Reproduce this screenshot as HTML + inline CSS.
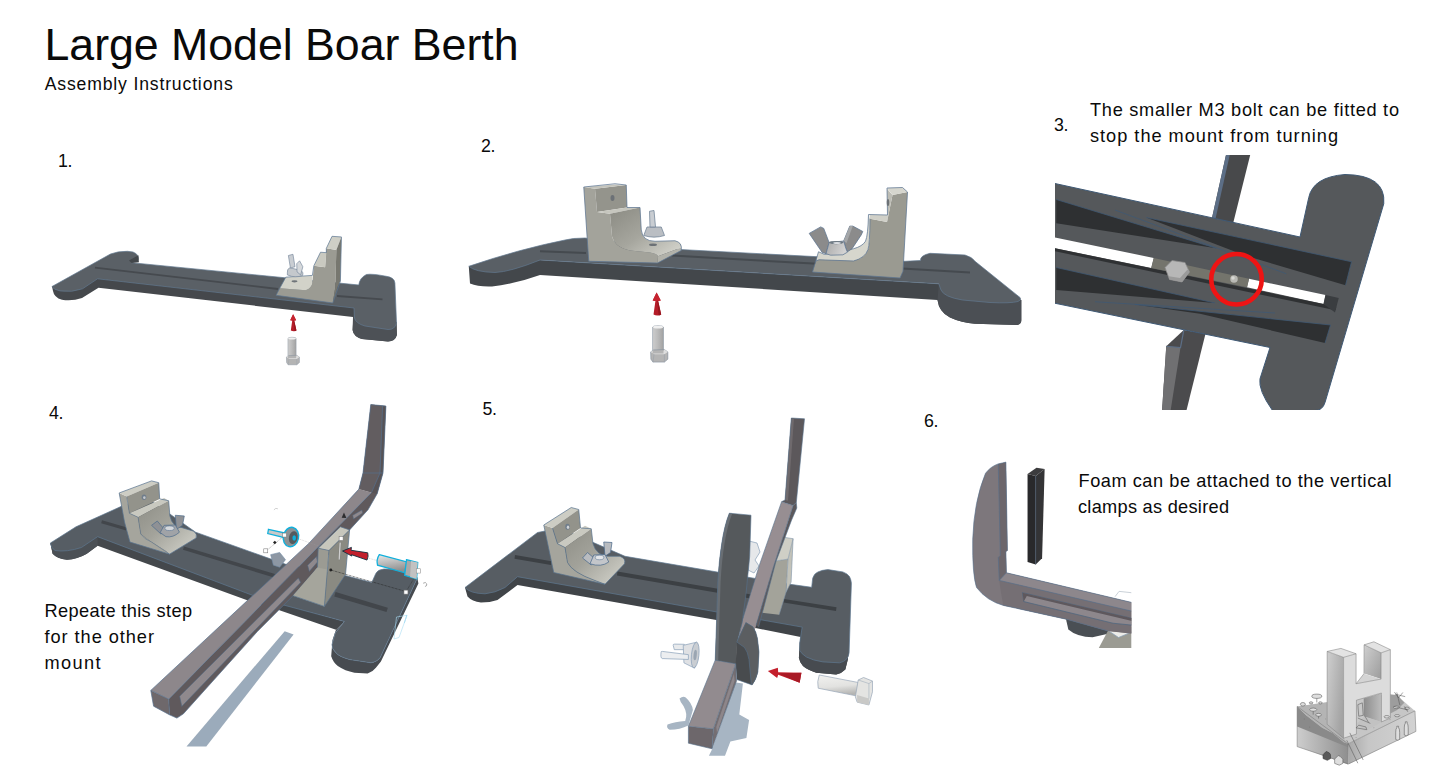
<!DOCTYPE html>
<html><head><meta charset="utf-8"><title>Large Model Boar Berth</title>
<style>
html,body{margin:0;padding:0;background:#fff;}
body{width:1445px;height:784px;overflow:hidden;font-family:"Liberation Sans",sans-serif;}
svg{display:block;position:absolute;left:0;top:0;}
text{font-family:"Liberation Sans",sans-serif;fill:#0a0a0a;}
</style></head><body>
<svg width="1445" height="784" viewBox="0 0 1445 784">
<defs>
<filter id="soft" x="-5%" y="-5%" width="110%" height="110%"><feGaussianBlur stdDeviation="0.45"/></filter>
<linearGradient id="gm1" x1="0" y1="0" x2="1" y2="1"><stop offset="0" stop-color="#8a8a82"/><stop offset="0.5" stop-color="#a6a69e"/><stop offset="1" stop-color="#dadad2"/></linearGradient>
<clipPath id="clip3"><rect x="1055" y="155" width="390" height="255"/></clipPath>
<linearGradient id="gm4" x1="0" y1="0" x2="1" y2="1"><stop offset="0" stop-color="#8d8d85"/><stop offset="0.45" stop-color="#a3a39b"/><stop offset="1" stop-color="#d6d6ce"/></linearGradient>
<linearGradient id="gb4" x1="0" y1="0" x2="0.25" y2="1"><stop offset="0" stop-color="#e8e8e8"/><stop offset="1" stop-color="#8f8f8f"/></linearGradient>
<linearGradient id="gb5" x1="0" y1="0" x2="0.18" y2="1"><stop offset="0" stop-color="#f2f2f0"/><stop offset="0.6" stop-color="#e2e2e0"/><stop offset="1" stop-color="#b5b5b3"/></linearGradient>
<clipPath id="clip6"><rect x="960" y="455" width="171.3" height="193"/></clipPath>
<linearGradient id="gl1" x1="0" y1="0" x2="1" y2="0.6"><stop offset="0" stop-color="#cfcfcf"/><stop offset="1" stop-color="#a3a3a3"/></linearGradient>
<linearGradient id="gl2" x1="0" y1="0" x2="1" y2="1"><stop offset="0" stop-color="#cfcfcf"/><stop offset="1" stop-color="#9c9c9c"/></linearGradient>
<linearGradient id="gl3" x1="0" y1="0" x2="1" y2="0"><stop offset="0" stop-color="#8e8e8e"/><stop offset="1" stop-color="#bdbdbd"/></linearGradient>
<linearGradient id="glb" x1="0" y1="0" x2="1" y2="0"><stop offset="0" stop-color="#cdcdcd"/><stop offset="1" stop-color="#8f8f8f"/></linearGradient>
<linearGradient id="glr" x1="0" y1="0" x2="1" y2="0"><stop offset="0" stop-color="#a8a8a8"/><stop offset="0.3" stop-color="#c6c6c6"/><stop offset="1" stop-color="#d2d2d2"/></linearGradient>
<linearGradient id="gsh" x1="0" y1="0" x2="1" y2="0"><stop offset="0" stop-color="#cdcdcd"/><stop offset="0.45" stop-color="#bcbcbc"/><stop offset="1" stop-color="#a2a2a2"/></linearGradient>
<g id="uparrow"><path d="M232,108 L198,178 L222,181 L205,300 Q238,318 272,300 L245,181 L268,178 Z" fill="#b51d29"/><path d="M232,108 L198,178 Q232,188 268,178 Z" fill="#c6232f"/><path d="M238,181 L245,181 L272,300 Q262,308 250,310 Z" fill="#98161f"/></g>
<g id="vbolt"><path d="M197,412 Q197,398 245,398 Q292,398 292,412 L292,640 L197,640 Z" fill="url(#gsh)" stroke="#8a95a3" stroke-width="5"/><ellipse cx="245" cy="412" rx="44" ry="12" fill="#f0f0f0"/><path d="M180,627 L205,610 L300,607 L330,627 L330,690 L300,716 L200,716 L182,690 Z" fill="#b4b4b4" stroke="#7f8b99" stroke-width="5"/><path d="M180,627 L205,610 L197,622 L197,640 L292,640 L292,620 L300,607 L330,627 L300,648 L210,648 Z" fill="#dedede"/><path d="M210,648 L200,716 M300,648 L300,716" stroke="#8f9aa8" stroke-width="4" fill="none"/></g>
<linearGradient id="gwn" x1="0" y1="0" x2="1" y2="0.3"><stop offset="0" stop-color="#a9a9a9"/><stop offset="1" stop-color="#d3d3d3"/></linearGradient>

</defs>
<rect width="1445" height="784" fill="#fff"/>
<!--TEXT-->
<g id="txt">
<text x="44.5" y="59.5" font-size="44.7" textLength="474" lengthAdjust="spacing">Large Model Boar Berth</text>
<text x="44.7" y="90" font-size="17.6" textLength="188" lengthAdjust="spacing">Assembly Instructions</text>
<text x="58" y="166.5" font-size="17.8" textLength="14.5" lengthAdjust="spacing">1.</text>
<text x="481" y="151.9" font-size="17.8" textLength="14.5" lengthAdjust="spacing">2.</text>
<text x="1054" y="130.8" font-size="17.8" textLength="14.5" lengthAdjust="spacing">3.</text>
<text x="49" y="419.3" font-size="17.8" textLength="14.5" lengthAdjust="spacing">4.</text>
<text x="482.5" y="414.5" font-size="17.8" textLength="14.5" lengthAdjust="spacing">5.</text>
<text x="924" y="426.9" font-size="17.8" textLength="14.5" lengthAdjust="spacing">6.</text>
<text x="1090" y="116.3" font-size="18.2" textLength="309" lengthAdjust="spacing">The smaller M3 bolt can be fitted to</text>
<text x="1090" y="141.8" font-size="18.2" textLength="248" lengthAdjust="spacing">stop the mount from turning</text>
<text x="1078.5" y="487" font-size="18.2" textLength="313" lengthAdjust="spacing">Foam can be attached to the vertical</text>
<text x="1078" y="513.1" font-size="18.2" textLength="151" lengthAdjust="spacing">clamps as desired</text>
<text x="44.5" y="616.6" font-size="18.2" textLength="147.5" lengthAdjust="spacing">Repeate this step</text>
<text x="44.5" y="643" font-size="18.2" textLength="109.5" lengthAdjust="spacing">for the other</text>
<text x="44.5" y="669.2" font-size="18.2" textLength="56" lengthAdjust="spacing">mount</text>
</g>
<g id="fig1">
<!-- base sides -->
<path d="M52,286.5 L53,291 Q54,297.5 62,299.8 Q72,301.5 82,298 L98.5,287.8 L353,317 L352.6,330 Q353.5,336.5 362,339 L388,341.5 Q395,341.5 396.9,335 L396.5,322 L354,307 L97,278 Z" fill="#45484c"/>
<path d="M354,308 L352.6,330 Q353.5,336.5 362,339 L388,341.5 Q395,341.5 396.9,335 L396.5,322 Z" fill="#4d5156"/>
<!-- base top -->
<path d="M52,286.5 L110.5,254 Q118,251 127.5,251.3 L133,252 Q139.5,254.5 138,260 L131.5,262.7 L358.8,285 Q359.5,278 366.4,274.5 Q372,273.5 386.3,276.3 Q394.5,277.5 394.9,283 L396.5,323 Q395,329.8 388,329.5 L365,326 Q356,323.5 354.5,318 L354,308 L97.5,278.8 L82.5,288.8 Q72,292.7 60,290.9 Q53,289.5 52,286.5 Z" fill="#5a6066" stroke="#62788f" stroke-width="0.7"/>
<path d="M129,260.6 L138.4,255.2 L138.9,262.3 L131.5,262.9 Z" fill="#43474b"/>
<!-- grooves -->
<path d="M95,267.7 L278,289" stroke="#464a4f" stroke-width="1.8" fill="none"/>
<path d="M337,296 L382.5,299.4" stroke="#464a4f" stroke-width="1.8" fill="none"/>
<!-- mount -->
<g transform="translate(270,230) scale(0.10204)">
<path d="M60,640 L95,572 L350,590 Q410,570 415,520 L430,350 L540,365 L552,180 L650,195 L640,560 L615,715 Z" fill="#9b9b93"/>
<path d="M95,572 L155,462 L415,445 L415,520 Q410,570 350,590 Z" fill="#d2d2c9"/>
<path d="M430,350 L495,218 L552,222 L540,365 Z" fill="#c9c9c0"/>
<path d="M552,180 L608,62 L700,68 L650,195 Z" fill="#cfcfc6"/>
<path d="M650,195 L700,68 L690,500 L660,560 L615,715 L640,560 Z" fill="#77776f"/>
<path d="M60,640 L95,572 L155,462 L415,445 L430,350 L495,218 L552,222 L552,180 L608,62 L700,68 L690,500 L615,715 Z" fill="none" stroke="#5d7691" stroke-width="7"/>
<ellipse cx="240" cy="503" rx="30" ry="11" fill="#70757a"/>
<!-- wingnut -->
<path d="M170,420 Q165,380 195,370 L300,395 Q330,410 320,445 Q250,475 170,440 Z" fill="#c4c8cc" stroke="#6f8196" stroke-width="6"/>
<path d="M180,250 L225,238 L245,360 L200,372 Z" fill="#c9cdd2" stroke="#6f8196" stroke-width="6"/>
<path d="M262,330 L290,302 L322,360 L300,440 L265,410 Z" fill="#d5d8db" stroke="#6f8196" stroke-width="6"/>
</g>
<use href="#uparrow" transform="translate(273.54,305.2) scale(0.08429)"/>
<use href="#vbolt" transform="translate(270.85,302.81) scale(0.08658)"/>
</g>

<g id="fig2">
<!-- view A: offset (460,170) scale .25 ; view B: offset(700,170) -->
<!-- side faces -->
<path d="M468.8,266.5 L470,283.5 Q478,287 492,286.5 Q515,284 540,275 L937.5,300 Q939,312 950,317.5 Q962,323 975,323.8 L1017.5,325 Q1021.5,324 1021.3,320 L1021.3,300 L938.8,283.8 L540,260 Z" fill="#43474b"/>
<path d="M938.8,283.8 L937.5,300 Q939,312 950,317.5 Q962,323 975,323.8 L1017.5,325 Q1021.5,324 1021.3,320 L1021.3,300 Z" fill="#4b4f54"/>
<!-- top face -->
<path d="M468.8,266.3 Q520,249 565,240 Q572,238 585,238 L680,249.5 L905,261.3 L920.5,260.5 Q920,255.5 930,253.3 L965,255 Q972,257 975,261.3 L1020,297.5 Q1022,300 1018,301.5 Q1010,303.5 990,302.5 L962.5,300 Q944,297 941,290 L938.8,283.8 L540,260 Q510,272 495,272.5 Q475,272 468.8,266.3 Z" fill="#595f65" stroke="#62788f" stroke-width="0.7"/>
<path d="M540,251.3 L586,253 M672,255.5 L817.5,263.8 M902,268.5 L970,272.5" stroke="#454a4f" stroke-width="2" fill="none"/>
<!-- mount 1 -->
<g transform="translate(460,170) scale(0.25)">
<path d="M495,68 L540,75 L548,168 L600,175 L608,265 Q620,310 680,322 L760,330 Q790,335 792,345 L790,372 L515,365 Z" fill="#a3a39b"/>
<path d="M540,75 L665,60 L668,150 L548,168 Z" fill="#94948c"/>
<path d="M495,68 L620,58 L665,60 L540,75 Z" fill="#c4c4bc"/>
<path d="M548,168 L668,150 L720,150 L600,175 Z" fill="#c6c6be"/>
<path d="M600,175 L720,150 L725,240 Q730,285 780,285 L860,283 Q890,290 885,310 L792,345 Q790,335 760,330 L680,322 Q620,310 608,265 Z" fill="url(#gm1)"/>
<path d="M792,345 L885,310 L885,322 L790,372 Z" fill="#b2b2aa"/>
<path d="M495,68 L620,55 L665,60 L668,150 L720,150 L725,240 Q730,285 780,285 L860,283 Q890,290 885,322 L790,372 L515,365 Z" fill="none" stroke="#5d7691" stroke-width="3"/>
<ellipse cx="610" cy="112" rx="8" ry="12" fill="#6c7176"/>
<ellipse cx="772" cy="299" rx="16" ry="5" fill="#6c7176"/>
<!-- wingnut small -->
<path d="M735,262 L748,228 L805,228 L818,262 Q776,275 735,262 Z" fill="#babec3" stroke="#6f8196" stroke-width="3"/>
<path d="M758,165 L776,162 L782,228 L760,228 Z" fill="#c9cdd2" stroke="#6f8196" stroke-width="3"/>
</g>
<!-- mount 2 -->
<g transform="translate(700,170) scale(0.25)">
<path d="M450,408 L464,364 L476,359 L614,364 Q660,352 672,318 Q679,298 680,195 L748,208 L770,100 L830,88 L812,405 L800,432 Z" fill="#9a9a91"/>
<path d="M464,364 L474,327 L498,338 L614,315 Q650,305 662,285 Q672,262 674,178 L680,195 Q679,298 672,318 Q660,352 614,364 L476,359 Z" fill="#d6d6cd"/>
<path d="M678,178 L750,180 L748,208 L680,195 Z" fill="#d0d0c8"/>
<path d="M748,75 L770,100 L748,208 L750,180 Z" fill="#bdbdb5"/>
<path d="M748,72 L810,70 L830,88 L770,100 Z" fill="#d6d6ce"/>
<path d="M450,408 L474,327 L498,338 L614,315 Q650,305 662,285 Q672,262 674,178 L750,180 L748,72 L810,70 L830,88 L812,405 L800,432 Z M464,364 L476,359 L614,364 Q660,352 672,318 Q679,298 680,195" fill="none" stroke="#5d7691" stroke-width="3"/>
<ellipse cx="752" cy="130" rx="5" ry="14" fill="#6c7176"/>
<!-- wingnut big -->
<path d="M436.8,253.5 L482.7,227.5 L495,233.6 L516.4,290.3 L504.1,334.7 L488.8,330.1 Z" fill="#8b8b8b" stroke="#5d7691" stroke-width="3" stroke-linejoin="round"/>
<path d="M574.6,284.1 L599.1,224.4 L611.3,224.4 L651.2,245.9 L645,259.6 L608.3,314.8 L589.9,327 L583.8,314.8 Z" fill="#8b8b8b" stroke="#5d7691" stroke-width="3" stroke-linejoin="round"/>
<path d="M574.6,284.1 L599.1,224.4 L611.3,224.4 L586,292 Z" fill="#a4a6a8"/>
<path d="M504.1,334.7 L516.4,290.3 L574.6,284.1 L583.8,314.8 L589.9,328.6 L571.5,339.3 L522.5,340.8 Z" fill="url(#gwn)" stroke="#5d7691" stroke-width="3" stroke-linejoin="round"/>
<ellipse cx="545" cy="290" rx="29" ry="6.5" fill="#6f7a84"/>
<ellipse cx="548" cy="292" rx="15" ry="4" fill="#d9dce0"/>
</g>
<use href="#uparrow" transform="translate(630,280) scale(0.11468)"/>
<use href="#vbolt" transform="translate(630,280) scale(0.11468)"/>
</g>

<g id="fig3" clip-path="url(#clip3)">
<g transform="translate(1040,150) scale(0.25)">
<!-- vertical bar behind -->
<path d="M745,15 L842,15 L772,295 L688,272 Z" fill="#48494b"/>
<path d="M745,15 L760,15 L702,275 L688,272 Z" fill="#5c6e86"/>
<path d="M575,720 L662,735 L585,1045 L488,1045 L505,785 Z" fill="#4b4b4d"/>
<path d="M505,785 L562,790 L522,1045 L488,1045 Z" fill="#707072"/>
<path d="M505,785 L562,790 L575,722" fill="none" stroke="#5c6e86" stroke-width="5"/>
<!-- base body -->
<path d="M55,133 L1040,348 L1075,190 Q1092,108 1220,98 Q1385,100 1375,215 L1140,1010 Q1130,1042 1100,1042 L930,1042 Q872,960 880,915 L920,790 L55,612 Z" fill="#55585b" stroke="#3f5975" stroke-width="4"/>
<!-- slot white -->
<path d="M55,349 L455,432 L445,472 L55,392 Z" fill="#fff"/>
<path d="M836,515 L1142,580 L1134,616 L828,549 Z" fill="#fff"/>
<!-- slot wall shadow -->
<path d="M55,392 L1134,616 L1185,628 L1182,641 L55,404 Z" fill="#2f3133"/>
<path d="M1142,580 L1195,592 L1180,650 L1134,616 Z" fill="#3a3d40"/>
<!-- pockets -->
<path d="M65,198 L705,393 L65,293 Z" fill="#2e3032"/>
<path d="M425,270 L1246,447 L1222,541 L820,422 Z" fill="#2e3032"/>
<path d="M65,470 L700,612 L65,560 Z" fill="#2e3032"/>
<path d="M380,618 L1162,700 L1140,772 L640,655 Z" fill="#2e3032"/>
<!-- rib edge lines -->
<path d="M300,240 L985,495 M220,607 L940,652 M65,198 L705,393 M425,270 L1246,447 L1222,541 M65,470 L700,612 M380,618 L1162,700 L1140,772" fill="none" stroke="#3f5975" stroke-width="3"/>
<!-- nut plate -->
<path d="M455,432 L836,515 L828,549 L445,472 Z" fill="#74746c"/>
<!-- hex -->
<path d="M500,470 L528,442 L580,450 L598,488 L568,528 L518,518 Z" fill="#b7b7b7" stroke="#8a8a8a" stroke-width="3"/>
<path d="M518,518 L568,528 L598,488 L590,478 L560,512 L515,505 Z" fill="#9a9a9a"/>
<circle cx="776" cy="516" r="15" fill="#b9b9b4"/>
<circle cx="772" cy="512" r="7" fill="#d8d8d4"/>
<!-- red circle -->
<circle cx="786" cy="517" r="101" fill="none" stroke="#ee1414" stroke-width="18.5"/>
</g>
</g>

<g id="fig4">
<!-- shadow strip -->
<path d="M284.7,631.2 L293.6,634.6 L206.3,746.4 L186.5,746.4 Z" fill="#9babbb"/>
<!-- base sides -->
<path d="M50.4,543 L52.6,553.8 Q57,558.7 67,559.8 Q77,559.5 86.8,553.8 L97.6,545.7 L250,601.3 L278,609.8 L336,629.7 L344.4,621.4 L279.8,603 L245.1,591 L97.6,535 Z" fill="#44484c"/>
<path d="M50.4,543 L52.6,553.8 Q57,558.7 67,559.8 Q77,559.5 86.8,553.8 L97.6,545.7 L97.6,536.7 L81.4,547.5 Q67,552.3 55,550.5 Z" fill="#4b5055"/>
<path d="M344.4,621.4 L335.3,633 L332,644.6 Q331.5,648.5 336.1,652.9 Q339,656.5 349.4,659.5 L371,662.8 Q377,662 380.1,657.8 L417.4,578 L418.4,583.5 L380.9,661.4 L375.9,667.8 Q373,671.7 367.6,673.6 L354.4,672.8 Q345,671 337.8,666.1 Q333,662 331.2,656.2 L332.5,640 L336,629.7 Z" fill="#474b50"/>
<!-- base top -->
<path d="M50.4,543 L76,526.8 L121.9,506.1 L150,500 L195.6,532.2 L286.5,564.6 L346.1,575.8 L371.8,582.4 L375.9,573.3 Q378,569.5 384,569 L405,569.5 Q414,571.5 417.4,578 L380.1,657.8 Q377,662 371,662.8 L349.4,659.5 Q339,656.5 336.1,652.9 Q331.5,648.5 332,644.6 L335.3,633 L344.4,621.4 L279.8,604 L262,599 L245.1,592.5 L97.6,536.7 L81.4,547.5 Q67,552.3 55,550.5 Q50.8,548 50.4,543 Z" fill="#565d64" stroke="#5f7891" stroke-width="0.7"/>
<path d="M102,520.3 L127,527.6 L126.2,530.6 L101.2,523.2 Z M184,546.4 L275,574 L274,577.5 L183,549.7 Z" fill="#42464b"/>
<path d="M335.6,592 L387.8,607.8 L386.5,612 L334.3,596.4 Z" fill="#42464b"/>
<!-- mount 1 -->
<g transform="translate(40,480) scale(0.17992)">
<path d="M440,72 L482,92 L497,185 L545,207 L560,300 L620,345 L700,395 L720,412 L500,345 L470,235 Z" fill="#a5a59d"/>
<path d="M440,72 L620,5 L660,15 L482,92 Z" fill="#cdcdc4"/>
<path d="M482,92 L660,15 L665,105 L497,185 Z" fill="#93938b"/>
<path d="M497,185 L690,100 L715,115 L545,207 Z" fill="#c9c9c0"/>
<path d="M545,207 L715,115 L722,200 Q735,262 790,265 L855,285 Q876,300 868,322 L720,412 L700,395 L620,345 L560,300 Z" fill="url(#gm4)"/>
<path d="M440,72 L620,5 L660,15 L665,105 L715,115 L722,200 Q735,262 790,265 L855,285 Q876,300 868,322 L720,412 L500,345 L470,235 Z" fill="none" stroke="#58728e" stroke-width="4"/>
<path d="M482,92 L497,185 L545,207 L560,300 Q580,330 620,345 L720,412" fill="none" stroke="#58728e" stroke-width="3"/>
<ellipse cx="578" cy="96" rx="13" ry="15" fill="#6f7d8c"/><ellipse cx="580" cy="98" rx="7" ry="8" fill="#c5c8cc"/>
<!-- wingnut -->
<path d="M620,252 L652,228 L700,285 L672,300 Z" fill="#8f9195" stroke="#4f6c8c" stroke-width="4"/>
<path d="M752,196 L802,200 L792,252 L758,275 Z" fill="#8f9195" stroke="#4f6c8c" stroke-width="4"/>
<path d="M668,292 L690,252 L752,250 L775,290 Q740,322 700,315 Z" fill="#a0a3a7" stroke="#4f6c8c" stroke-width="4"/>
<ellipse cx="720" cy="268" rx="26" ry="13" fill="#d5d8dc" stroke="#4f6c8c" stroke-width="3"/>
</g>
<!-- bar -->
<path d="M370.8,404.6 L385.9,406 L383,473 L377.2,493.7 L368,509.8 L349.6,529.9 L318,567 L293,595.7 L257.1,631.8 L183.4,713.8 L176.9,718.1 L169.5,714.8 L168.7,699.1 L371.5,492.5 L358.9,489.1 L363,473 Z" fill="#5f595c"/>
<path d="M370.8,404.6 L382.6,405.8 L380,473 L371.5,492.5 L358.9,489.1 L363,473 Z" fill="#625d60"/>
<path d="M382.6,405.8 L385.9,406 L383,473 L377.2,493.7 L371.5,492.5 L380,473 Z" fill="#575356"/>
<path d="M358.9,489.1 L371.5,492.5 L344.5,520 L168.7,699.1 L150.8,690.4 L308.8,543.4 Z" fill="#8d878b"/>
<path d="M150.8,690.4 L168.7,699.1 L169.5,714.8 L153.6,706.2 Z" fill="#6e686b"/>
<path d="M179.6,696.2 L298.4,577.9 L300.7,582.5 L181.8,706.4 Z" fill="#8f898d" stroke="#4f6680" stroke-width="0.6"/>
<path d="M307.6,565.3 L316.5,556.5 L317.5,562 L309.3,571.5 Z" fill="#8f898d" stroke="#4f6680" stroke-width="0.6"/>
<path d="M352.7,515.3 L361.9,510 L362.7,513 L353.5,519.1 Z" fill="#8f898d" stroke="#4f6680" stroke-width="0.5"/>
<path d="M370.8,404.6 L385.9,406 L383,473 L377.2,493.7 L368,509.8 L349.6,529.9 L318,567 L293,595.7 L257.1,631.8 L183.4,713.8 L176.9,718.1 L169.5,714.8 L153.6,706.2 L150.8,690.4 L308.8,543.4 L358.9,489.1 L363,473 Z M371.5,492.5 L168.7,699.1 L150.8,690.4 M168.7,699.1 L169.5,714.8 M382.6,405.8 L380,473 L371.5,492.5 M363,473 L383,473" fill="none" stroke="#56708c" stroke-width="0.7"/>
<!-- mount 2 -->
<path d="M318.2,548.2 L329,550.5 L324.4,606.4 L293,595.7 L317.5,567.4 Z" fill="#9b9b93"/>
<path d="M317.5,567.4 L327.5,569.5 L324.4,606.4 L293,595.7 Z" fill="#a5a59c"/>
<path d="M318.2,548.2 L340.4,526.8 L349.6,529.9 L329,550.5 Z" fill="#c7c7bd"/>
<path d="M329,550.5 L349.6,529.9 L345.5,574.5 L324.4,606.4 Z" fill="#8a8a82"/>
<path d="M318.2,548.2 L340.4,526.8 L349.6,529.9 L345.5,574.5 L324.4,606.4 L293,595.7 M329,550.5 L324.4,606.4 M329,550.5 L349.6,529.9 M318.2,548.2 L329,550.5 M318.2,548.2 L317.5,567.4" fill="none" stroke="#58728e" stroke-width="0.7"/>
<!-- small items (view G coords) -->
<g transform="translate(200,480) scale(0.18113)">
<path d="M390,412 L440,400 L472,440 L440,482 L405,470 Z" fill="#8d97a3" stroke="#6c86a3" stroke-width="3"/>
<path d="M545,325 L660,366" stroke="#999" stroke-width="2" stroke-dasharray="5 4"/>
<path d="M365,392 L468,305" stroke="#444" stroke-width="2" stroke-dasharray="6 4"/>
<!-- knob -->
<path d="M378,272 L470,293 L466,318 L374,296 Z" fill="#c9c9c9" stroke="#10b0dc" stroke-width="7"/>
<ellipse cx="502" cy="315" rx="42" ry="54" fill="#8d9194" stroke="#10b0dc" stroke-width="8" transform="rotate(12 502 315)"/>
<ellipse cx="515" cy="318" rx="24" ry="36" fill="#555a5e" transform="rotate(12 515 318)"/>
<ellipse cx="520" cy="320" rx="10" ry="15" fill="#10b0dc"/>
<rect x="455" y="293" width="22" height="22" fill="#fff" stroke="#777" stroke-width="3"/>
<rect x="352" y="380" width="22" height="22" fill="#fff" stroke="#777" stroke-width="3"/>
<rect x="406" y="338" width="14" height="14" fill="#222" transform="rotate(45 413 345)"/>
<!-- marker cone -->
<path d="M795,180 L782,208 L808,210 Z" fill="#2c2c2e"/>
<!-- square on mount & pin -->
<rect x="768" y="312" width="22" height="22" fill="#fff" stroke="#777" stroke-width="3"/>
<path d="M770,345 L778,345 L772,440 L765,440 Z" fill="#e8e8e8" stroke="#777" stroke-width="2"/>
<circle cx="722" cy="497" r="8" fill="#222"/>
<path d="M722,497 L1138,616" stroke="#222" stroke-width="4" stroke-dasharray="4 4"/>
<path d="M1138,616 L1180,545" stroke="#222" stroke-width="3" stroke-dasharray="4 4"/>
<!-- arrow -->
<path d="M787,392 L836,372 L834,388 L926,402 Q932,420 922,442 L836,412 L838,420 Z" fill="#c21f2c" stroke="#12303f" stroke-width="5" stroke-linejoin="round"/>
<path d="M925,430 L985,447" stroke="#999" stroke-width="2" stroke-dasharray="5 4"/>
<!-- bolt -->
<path d="M990,412 L1142,452 L1130,512 L980,470 Q972,440 990,412 Z" fill="url(#gb4)" stroke="#10b0dc" stroke-width="7"/>
<path d="M1140,440 L1202,456 L1196,546 L1130,526 Z" fill="#a9a9a9" stroke="#10b0dc" stroke-width="7"/>
<path d="M1165,447 L1202,456 L1196,546 L1160,535 Z" fill="#c2c2c2"/>
<rect x="1195" y="490" width="22" height="24" fill="#fff" stroke="#888" stroke-width="3"/>
<rect x="1126" y="608" width="22" height="22" fill="#fff" stroke="#777" stroke-width="3"/>
<path d="M1232,570 q14,-10 20,4 q2,12 -10,14" fill="none" stroke="#666" stroke-width="3"/>
<path d="M408,165 q10,-14 22,-6" fill="none" stroke="#aaa" stroke-width="3"/>
<path d="M1142,745 L1128,790" stroke="#6cc8ee" stroke-width="3"/>
</g>
<path d="M396.5,617 L407,615.3 L399,637.5 L394,639 Z" fill="none" stroke="#a8dcf2" stroke-width="0.6"/>
</g>

<g id="fig5">
<!-- shadows -->
<path d="M735.7,682.5 L742.9,683.4 L739.3,714.6 L749.1,720 L746.4,737.9 L730.4,741.4 L725,755.7 L708.9,755.7 L712.5,748.6 Z" fill="#a7b5c3"/>
<path d="M679.5,698.6 Q683,695.5 685.7,697.5 Q692,703 692.9,710 L688.4,725.4 Q680,729.5 669.6,729.8 Q666,728 667.5,724.5 Q675,721.5 685.2,720.9 Q688,714 683.5,706 Q680,702 679.5,698.6 Z" fill="#a7b5c3"/>
<!-- base sides -->
<path d="M465,587.5 L467.5,596.5 Q472,601.5 481,602.6 Q490,602.5 497.5,600 L517.5,585 L716.3,620 L800.6,637.1 L798.9,657.8 Q799.5,662 803,666.1 Q808,670.5 816.3,672.7 L836.2,674.4 Q842,673 845.3,669.4 L847.8,659.5 L849,648 L802.2,626 L517.5,575 Z" fill="#404448"/>
<path d="M802.2,627.1 L799.7,642.9 L798.9,657.8 Q799.5,662 803,666.1 Q808,670.5 816.3,672.7 L836.2,674.4 Q842,673 845.3,669.4 L847.8,659.5 L849,648 Z" fill="#474b50"/>
<!-- base top -->
<path d="M465,587.5 L537.5,532.5 L560,528 L625,556.3 L720,572.5 L788.1,584 L811.7,587.3 L812.7,578.2 Q814,573.5 818,571.9 Q822,570 827.9,569.6 L842.8,571.9 Q847.5,573.5 849.5,576.6 Q851,579.5 851.4,583.2 L849.1,652.8 Q848.5,656.5 847,658.6 Q844,662 839.5,662.8 L822.9,661.9 Q813,660.5 806.4,657 Q801.5,654 799.7,650.3 L799.7,642.9 L802.2,627.1 L517.5,576.7 L505,587.5 Q495,593 485,593.8 Q470,593.5 465,587.5 Z" fill="#575d63" stroke="#5f7891" stroke-width="0.7"/>
<path d="M515,555 L551.5,561.2 L551,565 L514.5,558.8 Z M617.5,571.5 L760,596 L759.5,600 L617,575.5 Z M784,599 L836.5,607.3 L836,611 L783.5,602.6 Z" fill="#3c4044"/>
<!-- mount 1 (view N coords) -->
<g transform="translate(455,400) scale(0.25)">
<path d="M355,500 L390,512 L410,575 L440,590 L450,650 Q470,690 560,722 L600,737 L395,690 Z" fill="#a5a59d"/>
<path d="M355,500 L465,430 L495,438 L390,512 Z" fill="#cdcdc4"/>
<path d="M390,512 L495,438 L502,512 L410,575 Z" fill="#93938b"/>
<path d="M410,575 L520,503 L545,515 L440,590 Z" fill="#c9c9c0"/>
<path d="M440,590 L545,515 L552,575 Q565,620 610,625 L660,625 Q685,635 678,655 L600,737 L560,722 Q470,690 450,650 Z" fill="url(#gm4)"/>
<path d="M355,500 L465,430 L495,438 L502,512 L545,515 L552,575 Q565,620 610,625 L660,625 Q685,635 678,655 L600,737 L395,690 Z M390,512 L410,575 L440,590 L450,650 Q470,690 560,722 L600,737" fill="none" stroke="#58728e" stroke-width="2.8"/>
<ellipse cx="450" cy="507" rx="9" ry="12" fill="#6f7d8c"/><ellipse cx="452" cy="509" rx="5" ry="7" fill="#d0d3d6"/>
<!-- wingnut -->
<path d="M510,632 L530,610 L565,640 L545,660 Z" fill="#b9bcc0" stroke="#4f6c8c" stroke-width="3"/>
<path d="M595,568 L628,570 L622,610 L600,625 Z" fill="#b9bcc0" stroke="#4f6c8c" stroke-width="3"/>
<path d="M540,655 L555,620 L600,618 L615,648 Q585,670 540,655 Z" fill="#c3c6ca" stroke="#4f6c8c" stroke-width="3"/>
<ellipse cx="578" cy="630" rx="17" ry="9" fill="#e3e5e8" stroke="#4f6c8c" stroke-width="2"/>
</g>
<!-- white wingnuts by block -->
<path d="M749,541 L757,543 L760,552 L755,560 L759,566 L754,573 L748,570 Z" fill="#e6e8ea" stroke="#8aa0b8" stroke-width="0.7"/>
<!-- block mount 2 -->
<path d="M774.7,561.1 L788,559.1 L786,592.3 L779.1,614.7 L760,612.5 Z" fill="#a3a39a"/>
<path d="M779.1,536.6 L793.1,538.7 L788,559.1 L774.7,561.1 Z" fill="#cfcfc6"/>
<path d="M788,559.1 L793.1,538.7 L791.1,582.1 L786,592.3 Z" fill="#c2c2b9"/>
<path d="M779.1,536.6 L793.1,538.7 L791.1,582.1 L786,592.3 L779.1,614.7 M774.7,561.1 L788,559.1 L786,592.3 M788,559.1 L793.1,538.7" fill="none" stroke="#7f93a8" stroke-width="0.6"/>
<!-- upper bar -->
<path d="M791.3,418 L804.5,418.8 L796.3,502.5 L793.1,505.5 L781.6,501.7 L785,500 Z" fill="#5c585b"/>
<path d="M791.3,418 L794,418.2 L788,500.7 L785,500 Z" fill="#6f6a6d"/>
<path d="M781.6,501.7 L793.1,505.5 L772.7,569.3 L756.1,625.4 L752,640 L738,640 L741.5,622.9 L759.7,564.2 Z" fill="#978e92"/>
<path d="M793.1,505.5 L796.3,502.5 L796.8,508 L791.6,520 L775.8,562 L758.6,627 L756.1,625.4 L772.7,569.3 Z" fill="#5c585b"/>
<path d="M791.3,418 L804.5,418.8 L796.3,502.5 L796.8,508 L791.6,520 L775.8,562 L758.6,627 M793.1,505.5 L772.7,569.3 L756.1,625.4 M781.6,501.7 L793.1,505.5 L796.3,502.5 M791.3,418 L785,500 L781.6,501.7 L759.7,564.2 L741.5,622.9" fill="none" stroke="#56708c" stroke-width="0.6"/>
<!-- dark curved plate -->
<path d="M729.3,513.2 L751,515.2 L749.7,556.5 L745.9,594.8 L742.1,622.9 L737,643.3 L736.3,664.5 L715.2,660.5 L716.5,622.9 L717.8,582.1 Q719,560 721.7,543.8 Q724.5,525 729.3,513.2 Z" fill="#55595c"/>
<path d="M729.3,513.2 Q724.5,525 721.7,543.8 Q719,560 717.8,582.1 L716.5,622.9 L715.2,660.5 L718.2,661 L719.3,622.9 L720.6,582.1 Q721.8,560 724.5,543.8 Q727.5,525 732.3,513.5 Z" fill="#696e73"/>
<path d="M729.3,513.2 L751,515.2 L749.7,556.5 L745.9,594.8 L742.1,622.9 L737,643.3 M729.3,513.2 Q724.5,525 721.7,543.8 Q719,560 717.8,582.1 L716.5,622.9 L715.2,660.5" fill="none" stroke="#56708c" stroke-width="0.6"/>
<!-- foot -->
<path d="M736.8,642 L745.9,622.6 L752.8,626.7 Q756.5,632 757.4,638.2 L759,652 L757.9,671.9 Q756,680 752.1,684.9 L736.8,679.5 L735.7,663.8 Z" fill="#484b4e"/>
<path d="M745.9,622.6 L752.8,626.7 Q756.5,632 757.4,638.2 L759,652 L757.9,671.9 Q756,680 752.1,684.9 L751.3,684.1 L749,659.6 Q747.5,651 744.4,647.4 L736.8,642 Z" fill="#5b5e61"/>
<path d="M736.8,642 L745.9,622.6 L752.8,626.7 Q756.5,632 757.4,638.2 L759,652 L757.9,671.9 Q756,680 752.1,684.9 L736.8,679.5 M736.8,642 L744.4,647.4 Q747.5,651 749,659.6 L751.3,684.1" fill="none" stroke="#56708c" stroke-width="0.6"/>
<!-- lower bar -->
<path d="M715.2,660.2 L735.7,663.8 L713.4,728.9 L688.4,726.3 Z" fill="#928b8f"/>
<path d="M688.4,726.3 L713.4,728.9 L712,748.8 L688.4,743.2 Z" fill="#6d676b"/>
<path d="M735.7,663.8 L736.6,680.7 L712,748.8 L713.4,728.9 Z" fill="#746e72"/>
<path d="M733.9,674 L734.6,680.7 L717,733.5 L716.3,727.1 Z" fill="#8d868a"/>
<path d="M715.2,660.2 L735.7,663.8 L736.6,680.7 L712,748.8 L688.4,743.2 L688.4,726.3 Z M688.4,726.3 L713.4,728.9 L735.7,663.8 M713.4,728.9 L712,748.8" fill="none" stroke="#56708c" stroke-width="0.6"/>
<!-- knob (view Q coords) -->
<g transform="translate(650,620) scale(0.17857)">
<path d="M130,142 Q128,135 138,135 L192,136 L196,166 L136,166 Z" fill="#e8eaec" stroke="#8aa0b8" stroke-width="4"/>
<path d="M186,142 L262,124 Q280,170 250,270 L190,240 Z" fill="#dfe1e4" stroke="#8aa0b8" stroke-width="4"/>
<ellipse cx="253" cy="196" rx="21" ry="72" fill="#c9cdd2" stroke="#8aa0b8" stroke-width="4" transform="rotate(6 253 196)"/>
<ellipse cx="253" cy="196" rx="9" ry="30" fill="#9aa5b2" transform="rotate(6 253 196)"/>
<path d="M62,182 Q60,175 70,176 L215,194 L215,221 L68,216 Q58,212 62,182 Z" fill="#eceef0" stroke="#8aa0b8" stroke-width="4"/>
<!-- arrow -->
<path d="M660,286 L716,268 L718,292 L848,296 L838,352 L718,306 L712,325 Z" fill="#c41f2c"/>
<path d="M718,300 L848,296 L838,352 Z" fill="#a91a26"/>
<!-- bolt -->
<path d="M948,308 L1166,350 L1160,426 L942,382 Q934,345 948,308 Z" fill="url(#gb5)" stroke="#9aa8b8" stroke-width="4"/>
<path d="M1166,336 L1196,322 L1246,342 L1246,402 L1226,476 L1160,460 L1150,430 Z" fill="#e4e4e2" stroke="#9aa8b8" stroke-width="4"/>
<path d="M1160,420 L1226,440 L1226,476 L1160,460 Z" fill="#c9c9c7"/>
<path d="M1166,336 L1226,356 L1226,440 M1226,356 L1246,342" fill="none" stroke="#9aa8b8" stroke-width="3"/>
</g>
</g>

<g id="fig6" clip-path="url(#clip6)">
<g transform="translate(960,455) scale(0.2549)">
<!-- base dark lump + mount -->
<path d="M415,640 L425,685 Q460,715 520,715 L585,700 L600,650 Z" fill="#4a4f54"/>
<path d="M580,690 L680,672 L680,760 L543,760 Z" fill="#9b9b93"/>
<path d="M583,690 L680,652 L680,692 L622,716 Z" fill="#ecece8" stroke="#8aa0b8" stroke-width="3"/>
<path d="M608,556 L624,535 L680,541" fill="none" stroke="#b9c2cc" stroke-width="3"/>
<!-- vertical back (curved) -->
<path d="M150,35 L180,28 L186,375 L180,379 L182,462 L680,580 L680,700 L580,690 L420,645 L170,590 Q105,572 65,520 Q48,470 50,330 Q55,180 100,72 Q120,45 150,35 Z" fill="#7d777c"/>
<!-- inner strip of vertical (darker) -->
<path d="M150,35 L180,28 L186,375 L180,379 L182,462 L154,492 L150,402 L158,394 L156,294 Z" fill="#6c666b"/>
<!-- top face of arm -->
<path d="M154,492 L182,462 L680,580 L680,614 Z" fill="#8d878c"/>
<!-- side face of arm -->
<path d="M154,492 L680,614 L680,702 L580,690 L420,645 L170,590 Q160,540 154,492 Z" fill="#756f74"/>
<!-- slot -->
<path d="M245,540 L680,642 L680,668 L600,660 L250,575 Z" fill="#8d878c" stroke="#4f6680" stroke-width="3"/>
<path d="M245,540 L680,642 L680,652 L262,553 L250,575 Z" fill="#5e585d"/>
<path d="M150,35 L180,28 L186,375 L180,379 L182,462 L680,580 M154,492 L680,614 M170,590 L420,645 L580,690 M150,35 Q120,45 100,72 Q55,180 50,330 Q48,470 65,520 Q105,572 170,590 M150,35 L156,294 L158,394 L150,402 L154,492 L182,462" fill="none" stroke="#56708c" stroke-width="2.5"/>
<!-- foam -->
<path d="M265,75 L297,82 L297,430 L265,420 Z" fill="#29292b"/>
<path d="M297,82 L332,55 L322,405 L297,430 Z" fill="#343436"/>
<path d="M265,75 L300,50 L332,55 L297,82 Z" fill="#3c3c3e"/>
<path d="M297,82 L297,430" stroke="#3f5975" stroke-width="2"/>
</g>
</g>

<g id="logo" transform="translate(1290,635) scale(0.17857)">
<!-- base block -->
<path d="M40,400 L325,610 L325,725 L40,625 Z" fill="url(#glb)"/>
<path d="M325,610 L700,425 L705,540 L330,722 Z" fill="url(#glr)"/>
<path d="M40,400 L208,375 L560,330 L600,340 L700,425 L325,610 Z" fill="#c6c6c6"/>
<path d="M40,400 L90,450 L180,520 L240,550 L300,600 L325,610 L325,628 L40,512 Z" fill="#8a8a8a"/>
<path d="M40,400 L208,378 L208,500 L300,578 L325,610 L300,600 L240,550 L180,520 L90,450 Z" fill="#b4b4b4"/>
<path d="M562,335 L600,335 L640,380 L600,420 L562,440 Z" fill="#9d9d9d"/>
<path d="M40,400 L325,610 L700,425 M325,610 L328,722 M40,625 L328,722 L705,540 L700,425 M40,400 L40,625" fill="none" stroke="#777" stroke-width="3"/>
<!-- H left leg -->
<path d="M208,92 L300,125 L300,578 L208,500 Z" fill="url(#gl1)"/>
<path d="M208,92 L285,75 L370,105 L300,125 Z" fill="#e3e3e3"/>
<!-- right leg -->
<path d="M415,55 L510,100 L510,247 L415,215 Z" fill="url(#gl2)"/>
<path d="M415,55 L470,38 L562,82 L510,100 Z" fill="#e3e3e3"/>
<!-- interior under crossbar -->
<path d="M372,365 L415,355 L415,460 L372,500 Z" fill="#c9c9c9"/>
<path d="M415,355 L512,325 L512,487 L415,455 Z" fill="url(#gl3)"/>
<path d="M372,500 L415,458 L512,487 L420,540 Z" fill="#c2c2c2"/>
<!-- crossbar top -->
<path d="M370,273 L414,217 L510,246 L510,248 Z" fill="#d4d4d4"/>
<!-- H front face -->
<path d="M300,125 L370,105 L370,273 L510,247 L510,100 L562,82 L562,465 L512,487 L512,325 L372,365 L372,555 L300,578 Z" fill="#dcdcdc"/>
<path d="M208,92 L285,75 L370,105 L370,273 L414,217 L415,55 L470,38 L562,82 L562,465 L512,487 M208,92 L208,500 L300,578 L372,555 L372,365 L512,325 L512,487 M300,125 L300,578 M208,92 L300,125 L370,105 M415,55 L510,100 L562,82 M510,100 L510,247 L370,273 M415,355 L415,455" fill="none" stroke="#7d7d7d" stroke-width="3"/>
<!-- details -->
<g fill="#dedede" stroke="#555" stroke-width="3">
<ellipse cx="150" cy="343" rx="28" ry="12"/><ellipse cx="130" cy="418" rx="20" ry="9"/><ellipse cx="160" cy="447" rx="16" ry="8"/><ellipse cx="72" cy="388" rx="14" ry="10"/><ellipse cx="118" cy="380" rx="10" ry="6"/><ellipse cx="170" cy="380" rx="10" ry="6"/>
<ellipse cx="542" cy="458" rx="15" ry="7"/><ellipse cx="600" cy="452" rx="15" ry="6"/><ellipse cx="655" cy="410" rx="14" ry="6"/><ellipse cx="596" cy="405" rx="16" ry="7"/>
<path d="M592,545 q0,-20 6,-26 l0,-8 l10,0 l0,8 q6,6 6,26 l0,40 q-11,8 -22,0 Z"/><path d="M640,520 q0,-20 6,-26 l0,-8 l10,0 l0,8 q6,6 6,26 l0,40 q-11,8 -22,0 Z"/>
<path d="M250,695 l12,-12 l8,-8 l10,4 l8,8 l8,8 l0,24 l-20,10 l-26,-10 Z"/>
</g>
<path d="M185,670 l10,-10 l8,-8 l10,4 l8,6 l6,8 l0,22 l-18,10 l-24,-10 Z" fill="#5a5a5a" stroke="#333" stroke-width="3"/>
<path d="M150,355 L150,378 M130,427 L130,446 M160,455 L160,468 M318,590 L380,718 M335,548 L410,700 M598,322 L615,392 M590,332 L645,345 M608,352 L632,322 M608,352 L585,320 M380,390 L405,380 L410,450 L385,455 Z M380,465 L450,495 M420,455 L440,490 M370,520 L430,530 L425,515 L385,505 Z M580,400 L660,420 M640,400 L660,430" fill="none" stroke="#555" stroke-width="3"/>
<g fill="#777"><circle cx="110" cy="515" r="3"/><circle cx="80" cy="470" r="3"/><circle cx="200" cy="470" r="2.5"/><circle cx="470" cy="520" r="2.5"/><circle cx="370" cy="575" r="2.5"/><circle cx="560" cy="475" r="2.5"/></g>
</g>

</svg>
</body></html>
